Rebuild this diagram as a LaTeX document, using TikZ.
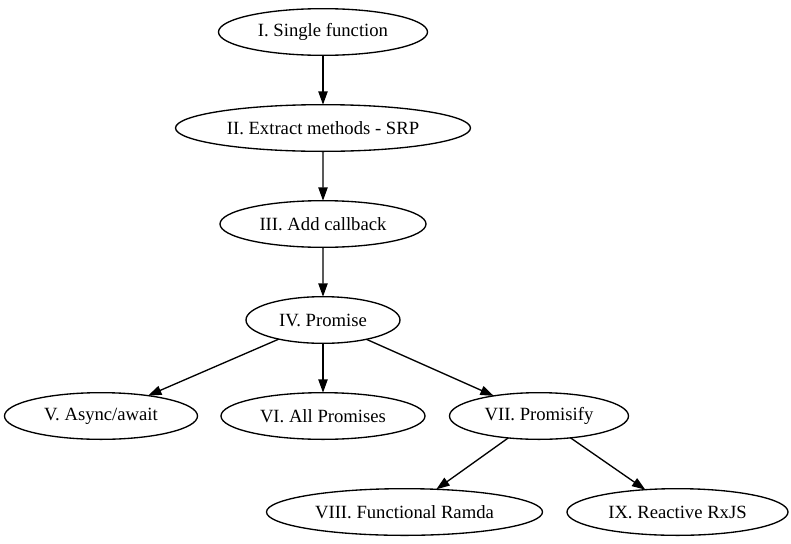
\documentclass[tikz,border=0pt]{standalone}
\usepackage{fontspec}
\setmainfont{Liberation Serif}
\usetikzlibrary{trees,shapes,arrows.meta}

\begin{document}
\begin{tikzpicture}[level distance=72pt]
\tikzstyle{every node}=[ellipse,draw,line width=1pt,inner sep=0pt,outer sep=0pt,minimum height=35pt,font=\fontsize{14pt}{16pt}\selectfont]
\tikzstyle{edge from parent}=[draw,line width=1pt,-{Triangle[length=10pt,width=7pt]}]
\tikzstyle{level 4}=[sibling distance=164.25pt]
\tikzstyle{level 5}=[sibling distance=204.75pt]
\useasboundingbox (-242.25pt,24pt) rectangle (351pt,-383.25pt);
\node[minimum width=156.75pt] (single) {I. Single function}
 child {node[minimum width=221.25pt] (extract) {II. Extract methods - SRP}
  child {node[minimum width=154.5pt] (callback) {III. Add callback}
   child {node[minimum width=115.5pt] (promise) {IV. Promise}
    child[xshift=-2.25pt] {node[minimum width=144.75pt] (async) {V. Async/await}}
    child {node[minimum width=153pt] (allprom) {VI. All Promises}}
    child[xshift=-2.25pt] {node[minimum width=134.25pt] (promisify) {VII. Promisify}
     child[xshift=1.5pt] {node[minimum width=207pt] (ramda) {VIII. Functional Ramda}}
     child[xshift=1.5pt] {node[minimum width=165.75pt] (rxjs) {IX. Reactive RxJS}}
    }
   }
  }
 };
\end{tikzpicture}
\end{document}
